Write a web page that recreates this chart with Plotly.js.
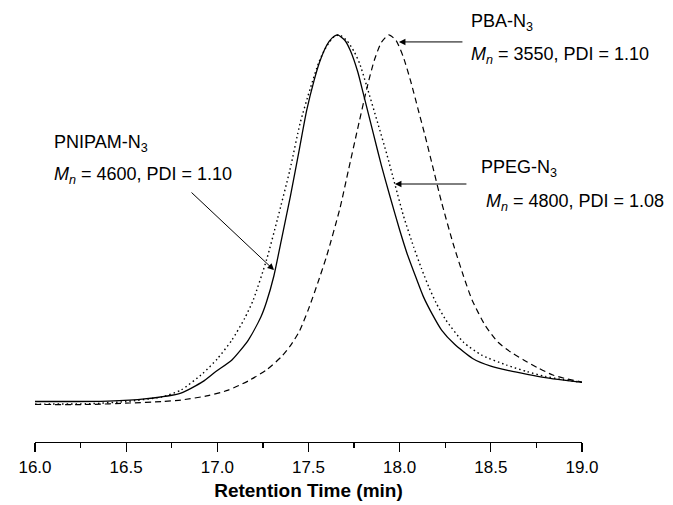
<!DOCTYPE html>
<html>
<head>
<meta charset="utf-8">
<script src="https://cdn.plot.ly/plotly-3.0.1.min.js"></script>
<style>html,body{margin:0;padding:0;background:#fff;}#chart{width:673px;height:505px;}</style>
</head>
<body>
<div id="chart"></div>
<script>
// Retention time (min) and normalized detector response
const xPNIPAM = [16.0,16.2,16.4,16.6,16.8,16.92,16.99,17.08,17.17,17.24,17.27,17.31,17.35,17.40,17.45,17.49,17.53,17.56,17.60,17.63,17.66,17.70,17.73,17.77,17.80,17.855,17.90,17.947,18.0,18.04,18.09,18.13,18.18,18.23,18.30,18.40,18.50,18.60,18.70,18.80,18.90,19.0];
const yPNIPAM = [0.004,0.004,0.005,0.011,0.027,0.058,0.085,0.117,0.171,0.235,0.275,0.345,0.44,0.56,0.69,0.795,0.875,0.925,0.972,0.992,1.0,0.985,0.957,0.90,0.842,0.733,0.645,0.561,0.47,0.407,0.34,0.289,0.24,0.198,0.16,0.121,0.10,0.088,0.078,0.069,0.062,0.056];

const xPPEG = [16.0,16.3,16.5,16.7,16.8,16.92,17.0,17.08,17.15,17.197,17.27,17.33,17.398,17.454,17.51,17.56,17.60,17.64,17.67,17.71,17.75,17.78,17.82,17.88,17.93,17.974,18.02,18.076,18.12,18.16,18.20,18.25,18.35,18.45,18.586,18.70,18.80,18.90,19.0];
const yPPEG = [-0.003,-0.002,0.004,0.017,0.035,0.08,0.12,0.171,0.23,0.28,0.389,0.50,0.633,0.76,0.855,0.93,0.97,0.995,1.0,0.985,0.955,0.923,0.86,0.76,0.675,0.594,0.51,0.425,0.365,0.315,0.272,0.228,0.165,0.13,0.103,0.085,0.072,0.063,0.056];

const xPBA = [16.0,16.3,16.52,16.7,16.8,16.95,17.06,17.17,17.27,17.35,17.40,17.45,17.50,17.55,17.60,17.673,17.72,17.765,17.82,17.86,17.90,17.94,17.98,18.02,18.06,18.10,18.14,18.18,18.23,18.295,18.35,18.397,18.47,18.54,18.61,18.68,18.76,18.84,18.92,19.0];
const yPBA = [-0.004,-0.004,0.0,0.004,0.008,0.02,0.035,0.06,0.09,0.125,0.155,0.195,0.255,0.325,0.40,0.53,0.635,0.735,0.855,0.93,0.98,1.0,0.985,0.94,0.875,0.80,0.725,0.645,0.545,0.43,0.345,0.28,0.21,0.165,0.138,0.117,0.095,0.076,0.065,0.057];

const xTicks = [16.0,16.5,17.0,17.5,18.0,18.5,19.0];
const xTickLabels = ["16.0","16.5","17.0","17.5","18.0","18.5","19.0"];

const FONT = "Arial, 'Liberation Sans', sans-serif";

const traces = [
  {x:xPNIPAM, y:yPNIPAM, mode:'lines', name:'PNIPAM-N3', line:{color:'#000', width:1.3, dash:'solid', shape:'spline', smoothing:0.6}},
  {x:xPPEG, y:yPPEG, mode:'lines', name:'PPEG-N3', line:{color:'#000', width:1.4, dash:'1.5px,3px', shape:'spline', smoothing:0.6}},
  {x:xPBA, y:yPBA, mode:'lines', name:'PBA-N3', line:{color:'#000', width:1.2, dash:'6px,4px', shape:'spline', smoothing:0.6}}
];

function txt(text, px, py) {
  return {text:text, xref:'paper', yref:'paper', x:(px-35)/547, y:(442-py)/417,
    xanchor:'left', yanchor:'middle', showarrow:false, font:{family:FONT, size:18, color:'#000'}};
}
function arrow(x, y, ax, ay) {
  return {text:'', x:x, y:y, xref:'x', yref:'y', ax:ax, ay:ay, showarrow:true,
    arrowhead:2, arrowsize:1.3, arrowwidth:1, arrowcolor:'#000', standoff:0};
}

const layout = {
  width:673, height:505,
  margin:{l:35, r:91, t:25, b:63, pad:0},
  paper_bgcolor:'#fff', plot_bgcolor:'#fff',
  showlegend:false,
  font:{family:FONT, color:'#000'},
  xaxis:{
    range:[16,19], showgrid:false, zeroline:false,
    showline:true, linecolor:'#000', linewidth:1.3,
    ticks:'outside', ticklen:9, tickwidth:1.3, tickcolor:'#000',
    tickvals:xTicks, ticktext:xTickLabels,
    tickfont:{family:FONT, size:17, color:'#000'},
    minor:{dtick:0.25, tick0:16, ticks:'outside', ticklen:5, tickwidth:1.3, tickcolor:'#000', showgrid:false},
    title:{text:'<b>Retention Time (min)</b>', font:{family:FONT, size:19, color:'#000'}, standoff:8}
  },
  yaxis:{range:[-0.106,1.027], visible:false, showgrid:false, zeroline:false},
  annotations:[
    txt('PNIPAM-N<sub>3</sub>', 52, 143),
    txt('<i>M</i><sub><i>n</i></sub> = 4600, PDI = 1.10', 52, 175),
    txt('PBA-N<sub>3</sub>', 469, 22),
    txt('<i>M</i><sub><i>n</i></sub> = 3550, PDI = 1.10', 469, 55),
    txt('PPEG-N<sub>3</sub>', 479, 168),
    txt('<i>M</i><sub><i>n</i></sub> = 4800, PDI = 1.08', 484, 202),
    arrow(17.311, 0.361, -84, -79),
    arrow(17.996, 0.981, 65, 0),
    arrow(17.974, 0.595, 73, 0)
  ]
};

Plotly.newPlot('chart', traces, layout, {displayModeBar:false, staticPlot:true});
</script>
</body>
</html>
